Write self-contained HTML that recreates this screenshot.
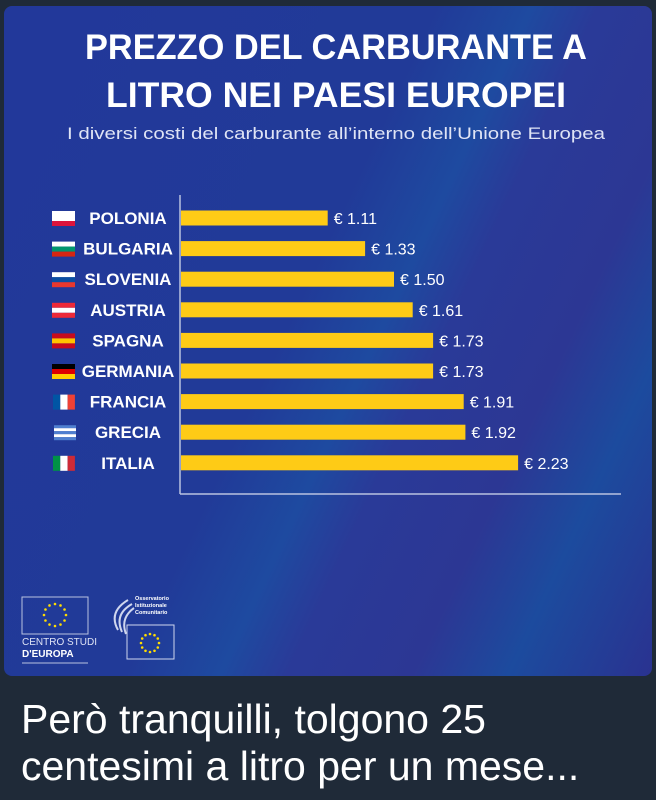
<!DOCTYPE html>
<html><head><meta charset="utf-8"><style>
body{margin:0;width:656px;height:800px;background:#1f2a38;overflow:hidden;font-family:"Liberation Sans",sans-serif}
#panel{position:absolute;left:4px;top:6px;width:648px;height:670px;border-radius:8px;overflow:hidden;
background:linear-gradient(115deg,#22389a 0%,#213a98 45%,#1e4aa0 55%,#2a3a98 62%,#2c3794 75%,#1c4b9e 85%,#2a3290 100%)}
.cap{position:absolute;left:21px;color:#fff;font-size:41px;line-height:41px;font-family:"Liberation Sans",sans-serif;white-space:nowrap}
</style></head><body>
<div id="panel">
<svg width="648" height="670" viewBox="4 6 648 670" style="position:absolute;left:0;top:0">
<text x="336" y="59" fill="#fff" font-size="35" font-weight="bold" text-anchor="middle" textLength="502" lengthAdjust="spacingAndGlyphs">PREZZO DEL CARBURANTE A</text>
<text x="336" y="107" fill="#fff" font-size="35" font-weight="bold" text-anchor="middle" textLength="460" lengthAdjust="spacingAndGlyphs">LITRO NEI PAESI EUROPEI</text>
<text x="336" y="139" fill="#dfe4f5" font-size="17" text-anchor="middle" textLength="538" lengthAdjust="spacingAndGlyphs">I diversi costi del carburante all’interno dell’Unione Europea</text>
<line x1="180" y1="195" x2="180" y2="494" stroke="#b9c2e0" stroke-width="1.5"/>
<line x1="180" y1="494" x2="621" y2="494" stroke="#b9c2e0" stroke-width="1.5"/>
<g id="bars"></g>
<g>
<rect x="22" y="597" width="66" height="37" fill="none" stroke="#b9c2e0" stroke-width="1"/>
<g id="stars1"></g>
<text x="22" y="645" fill="#dfe4f5" font-size="10">CENTRO STUDI</text>
<text x="22" y="657" fill="#fff" font-size="10" font-weight="bold">D'EUROPA</text>
<line x1="22" y1="663" x2="88" y2="663" stroke="#b9c2e0"/>
</g>
<g>
<path d="M128 600 Q108 612 118 630 M132 604 Q114 614 122 632 M134 608 Q120 618 126 634" stroke="#cfd6ee" stroke-width="2" fill="none"/>
<text x="135" y="600" fill="#fff" font-size="5.5" font-weight="bold">Osservatorio</text>
<text x="135" y="607" fill="#fff" font-size="5.5" font-weight="bold">Istituzionale</text>
<text x="135" y="614" fill="#fff" font-size="5.5" font-weight="bold">Comunitario</text>
<rect x="127" y="625" width="47" height="34" fill="none" stroke="#cfd6ee"/>
<g id="stars2"></g>
</g>
</svg>
</div>
<div class="cap" style="top:699px">Però tranquilli, tolgono 25</div>
<div class="cap" style="top:746px">centesimi a litro per un mese...</div>
<script>
const countries=["POLONIA","BULGARIA","SLOVENIA","AUSTRIA","SPAGNA","GERMANIA","FRANCIA","GRECIA","ITALIA"];
const prices=[1.11,1.33,1.50,1.61,1.73,1.73,1.91,1.92,2.23];
const labels=["€ 1.11","€ 1.33","€ 1.50","€ 1.61","€ 1.73","€ 1.73","€ 1.91","€ 1.92","€ 2.23"];
const flagColors=[["#fff","#fff","#dc143c"],["#fff","#00966e","#d62612"],["#fff","#0b4ea2","#e8382e"],["#ed2939","#fff","#ed2939"],["#c60b1e","#ffc400","#c60b1e"],["#000","#dd0000","#ffce00"],["v","#0055a4","#fff","#ef4135"],["g"],["v","#009246","#fff","#ce2b37"]];
const NS="http://www.w3.org/2000/svg";
const x0=180, xScale=v=>x0+170*v-42;
const yScale=i=>218+i*30.6;
const g=document.getElementById('bars');
function mk(t,a){const e=document.createElementNS(NS,t);for(const k in a)e.setAttribute(k,a[k]);return e;}
countries.forEach((c,i)=>{
 const y=yScale(i);
 const bar=mk('rect',{x:x0+1,y:y-7.5,width:xScale(prices[i])-x0,height:15,fill:'#fecb16'});
 
 
 g.appendChild(bar);
 const v=mk('text',{x:xScale(prices[i])+7,y:y+6,fill:'#fff','font-size':16});
 v.textContent=labels[i];
 
 
 g.appendChild(v);
 const n=mk('text',{x:128,y:y+6,fill:'#fff','font-size':17,'font-weight':'bold','text-anchor':'middle'});
 n.textContent=c;
 
 
 g.appendChild(n);
 const fl=mk('g',{});
 
 
 const fc=flagColors[i];
 if(fc[0]==='v'){for(let k=0;k<3;k++)fl.appendChild(mk('rect',{x:53+k*7.3,y:y-7,width:7.3,height:15,fill:fc[k+1]}));}
 else if(fc[0]==='g'){for(let k=0;k<5;k++)fl.appendChild(mk('rect',{x:54,y:y-7+k*3,width:22,height:3,fill:k%2?'#fff':'#4f7fd0'}));}
 else{for(let k=0;k<3;k++)fl.appendChild(mk('rect',{x:52,y:y-7+k*5,width:23,height:5,fill:fc[k]}));}
 g.appendChild(fl);
});
function stars(id,cx,cy,r){const s=document.getElementById(id);for(let k=0;k<12;k++){const a=k*Math.PI/6;s.appendChild(mk('circle',{cx:cx+r*Math.cos(a),cy:cy+r*Math.sin(a),r:1.3,fill:'#ffdd00'}));}}
stars('stars1',55,615,11);stars('stars2',150,643,9);
</script>
</body></html>
